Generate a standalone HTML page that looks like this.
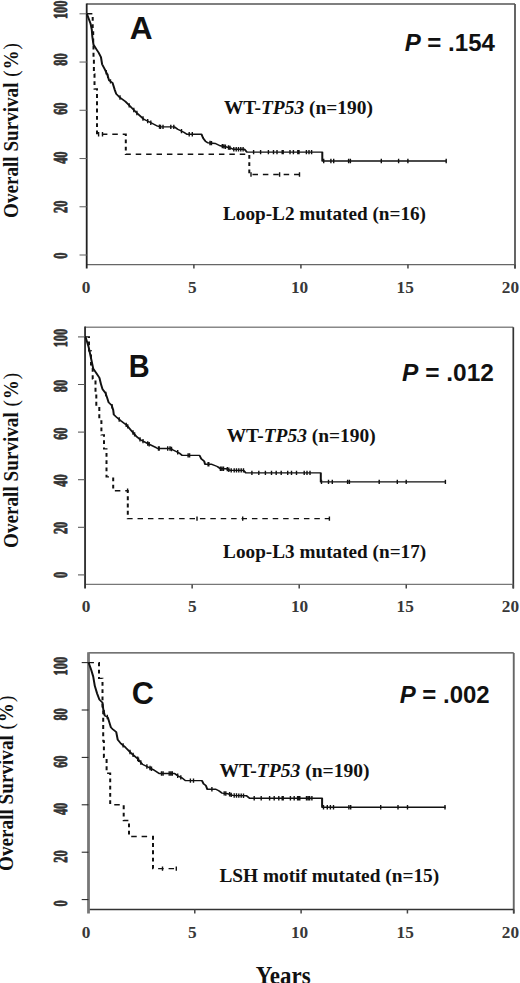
<!DOCTYPE html><html><head><meta charset="utf-8"><style>html,body{margin:0;padding:0;background:#fff;width:520px;height:983px;overflow:hidden}svg{display:block}</style></head><body>
<svg width="520" height="983" viewBox="0 0 520 983">
<rect width="520" height="983" fill="#fff"/>
<text transform="translate(67.4,255.6) rotate(-90) scale(0.63,1)" text-anchor="middle" class="yl">0</text>
<text transform="translate(67.4,206.8) rotate(-90) scale(0.63,1)" text-anchor="middle" class="yl">20</text>
<text transform="translate(67.4,157.7) rotate(-90) scale(0.63,1)" text-anchor="middle" class="yl">40</text>
<text transform="translate(67.4,108.7) rotate(-90) scale(0.63,1)" text-anchor="middle" class="yl">60</text>
<text transform="translate(67.4,59.5) rotate(-90) scale(0.63,1)" text-anchor="middle" class="yl">80</text>
<text transform="translate(67.4,9.85) rotate(-90) scale(0.63,1)" text-anchor="middle" class="yl">100</text>
<text transform="translate(86,293.3) scale(1,1)" text-anchor="middle" class="xl">0</text>
<text transform="translate(192.4,293.3) scale(1,1)" text-anchor="middle" class="xl">5</text>
<text transform="translate(299.6,293.3) scale(1,1)" text-anchor="middle" class="xl">10</text>
<text transform="translate(405.2,293.3) scale(1,1)" text-anchor="middle" class="xl">15</text>
<text transform="translate(510.4,293.3) scale(1,1)" text-anchor="middle" class="xl">20</text>
<text transform="translate(18.1,217.96) rotate(-90)" class="yt" style="font-size:21px" textLength="175.73" lengthAdjust="spacingAndGlyphs">Overall Survival <tspan font-weight="normal" dx="1" letter-spacing="1">(<tspan font-weight="bold">%</tspan>)</tspan></text>
<text x="129.82" y="38.53" class="let" style="font-size:31px" textLength="22.85" lengthAdjust="spacingAndGlyphs">A</text>
<text x="404.63" y="51.43" class="pv" style="font-size:24.3px" textLength="90.35" lengthAdjust="spacingAndGlyphs"><tspan font-style="italic">P</tspan> = .154</text>
<text x="223.95" y="113.63" class="lab" style="font-size:19.5px" textLength="148.94" lengthAdjust="spacingAndGlyphs">WT-<tspan font-style="italic">TP53</tspan> (n=190)</text>
<text x="223.04" y="220.03" class="lab" style="font-size:19px" textLength="202.98" lengthAdjust="spacingAndGlyphs">Loop-L2 mutated (n=16)</text>
<text transform="translate(67.4,574.9) rotate(-90) scale(0.63,1)" text-anchor="middle" class="yl">0</text>
<text transform="translate(67.4,527.9) rotate(-90) scale(0.63,1)" text-anchor="middle" class="yl">20</text>
<text transform="translate(67.4,480.6) rotate(-90) scale(0.63,1)" text-anchor="middle" class="yl">40</text>
<text transform="translate(67.4,433.7) rotate(-90) scale(0.63,1)" text-anchor="middle" class="yl">60</text>
<text transform="translate(67.4,386.1) rotate(-90) scale(0.63,1)" text-anchor="middle" class="yl">80</text>
<text transform="translate(67.4,338.1) rotate(-90) scale(0.63,1)" text-anchor="middle" class="yl">100</text>
<text transform="translate(86,612.1) scale(1,1)" text-anchor="middle" class="xl">0</text>
<text transform="translate(192.4,612.1) scale(1,1)" text-anchor="middle" class="xl">5</text>
<text transform="translate(299.6,612.1) scale(1,1)" text-anchor="middle" class="xl">10</text>
<text transform="translate(405.2,612.1) scale(1,1)" text-anchor="middle" class="xl">15</text>
<text transform="translate(510.4,612.1) scale(1,1)" text-anchor="middle" class="xl">20</text>
<text transform="translate(17.55,547.96) rotate(-90)" class="yt" style="font-size:21px" textLength="176.13" lengthAdjust="spacingAndGlyphs">Overall Survival <tspan font-weight="normal" dx="1" letter-spacing="1">(<tspan font-weight="bold">%</tspan>)</tspan></text>
<text x="128.72" y="376.73" class="let" style="font-size:30.5px" textLength="20.89" lengthAdjust="spacingAndGlyphs">B</text>
<text x="402.04" y="381.33" class="pv" style="font-size:24.3px" textLength="91.82" lengthAdjust="spacingAndGlyphs"><tspan font-style="italic">P</tspan> = .012</text>
<text x="226.73" y="442" class="lab" style="font-size:19.5px" textLength="148.88" lengthAdjust="spacingAndGlyphs">WT-<tspan font-style="italic">TP53</tspan> (n=190)</text>
<text x="223.14" y="558.03" class="lab" style="font-size:19px" textLength="203.07" lengthAdjust="spacingAndGlyphs">Loop-L3 mutated (n=17)</text>
<text transform="translate(67.4,903.5) rotate(-90) scale(0.63,1)" text-anchor="middle" class="yl">0</text>
<text transform="translate(67.4,856.5) rotate(-90) scale(0.63,1)" text-anchor="middle" class="yl">20</text>
<text transform="translate(67.4,808.9) rotate(-90) scale(0.63,1)" text-anchor="middle" class="yl">40</text>
<text transform="translate(67.4,761.7) rotate(-90) scale(0.63,1)" text-anchor="middle" class="yl">60</text>
<text transform="translate(67.4,714.4) rotate(-90) scale(0.63,1)" text-anchor="middle" class="yl">80</text>
<text transform="translate(67.4,666.2) rotate(-90) scale(0.63,1)" text-anchor="middle" class="yl">100</text>
<text transform="translate(86,937.7) scale(1,1)" text-anchor="middle" class="xl">0</text>
<text transform="translate(192.4,937.7) scale(1,1)" text-anchor="middle" class="xl">5</text>
<text transform="translate(299.6,937.7) scale(1,1)" text-anchor="middle" class="xl">10</text>
<text transform="translate(405.2,937.7) scale(1,1)" text-anchor="middle" class="xl">15</text>
<text transform="translate(510.4,937.7) scale(1,1)" text-anchor="middle" class="xl">20</text>
<text transform="translate(13.36,870.88) rotate(-90)" class="yt" style="font-size:21px" textLength="176.08" lengthAdjust="spacingAndGlyphs">Overall Survival <tspan font-weight="normal" dx="1" letter-spacing="1">(<tspan font-weight="bold">%</tspan>)</tspan></text>
<text x="131.8" y="703.83" class="let" style="font-size:31px" textLength="22.11" lengthAdjust="spacingAndGlyphs">C</text>
<text x="399.67" y="702.73" class="pv" style="font-size:24.3px" textLength="90.07" lengthAdjust="spacingAndGlyphs"><tspan font-style="italic">P</tspan> = .002</text>
<text x="219.4" y="776.88" class="lab" style="font-size:19.5px" textLength="150.2" lengthAdjust="spacingAndGlyphs">WT-<tspan font-style="italic">TP53</tspan> (n=190)</text>
<text x="219.43" y="882.23" class="lab" style="font-size:19px" textLength="219.74" lengthAdjust="spacingAndGlyphs">LSH motif mutated (n=15)</text>
<g transform="scale(1,0.7)">
<line x1="86.7" y1="5.71" x2="515" y2="5.71" stroke="#555" stroke-width="1.8"/>
<line x1="515" y1="5.71" x2="515" y2="383.71" stroke="#555" stroke-width="1.8"/>
<line x1="86.7" y1="378" x2="515" y2="378" stroke="#666" stroke-width="1.7"/>
<line x1="86.7" y1="4.86" x2="86.7" y2="383.71" stroke="#222" stroke-width="1.8"/>
<line x1="79.5" y1="364.29" x2="86.85" y2="364.29" stroke="#666" stroke-width="1.5"/>
<line x1="79.5" y1="295.37" x2="86.85" y2="295.37" stroke="#666" stroke-width="1.5"/>
<line x1="79.5" y1="226.46" x2="86.85" y2="226.46" stroke="#666" stroke-width="1.5"/>
<line x1="79.5" y1="157.54" x2="86.85" y2="157.54" stroke="#666" stroke-width="1.5"/>
<line x1="79.5" y1="88.63" x2="86.85" y2="88.63" stroke="#666" stroke-width="1.5"/>
<line x1="79.5" y1="19.71" x2="86.85" y2="19.71" stroke="#666" stroke-width="1.5"/>
<line x1="193.89" y1="378" x2="193.89" y2="383.71" stroke="#444" stroke-width="1.5"/>
<line x1="300.92" y1="378" x2="300.92" y2="383.71" stroke="#444" stroke-width="1.5"/>
<line x1="407.96" y1="378" x2="407.96" y2="383.71" stroke="#444" stroke-width="1.5"/>
<line x1="515" y1="378" x2="515" y2="383.71" stroke="#444" stroke-width="1.5"/>
<polyline points="86.85,19.71 87.2,20.86 90.6,34 91.8,42.29 92.3,52.14 93.5,63.71 96.4,70.29 98.7,75.29 101,81.86 102.1,91.71 104.5,98.29 107.3,106.57 109.1,114.86 112.5,118.14 114.8,128.57 116.2,134 119.2,138.43 125.4,145 131.5,153.86 137.7,162.57 143.8,170.29 150,174.71 157.7,180.29 160.8,181.29 174.6,181.29 177.7,184.57 183.8,189 186.9,191.71 201.5,191.71 203.1,197.29 205.4,201.71 207.7,203.86 215.4,205 220,208.29 224.6,209.29 230.8,211.57 233.1,213.29 244.6,213.29 246.9,217.29 322.3,217.29 322.3,230 446.2,230" fill="none" stroke="#111" stroke-width="2" stroke-linejoin="round"/>
<polyline points="86.85,19.71 92.7,19.71 92.7,41.43 93.2,41.43 93.2,62.86 93.5,62.86 93.5,84.29 93.9,84.29 93.9,105.71 94.5,105.71 94.5,127.14 97,127.14 97,191.86 125.8,191.86 125.8,220.43 249.3,220.43 249.3,249.29 301.2,249.29" fill="none" stroke="#111" stroke-width="2" stroke-dasharray="5.5 4.9"/>
<path d="M106.2 100.17v6.29M107.7 105.27v6.29M110.5 113.07v6.29M120 136.13v6.29M129.2 147.37v6.29M133.8 153.95v6.29M136.9 158.3v6.29M143 166.13v6.29M147.7 169.93v6.29M150.8 172.15v6.29M159.5 177.72v6.29M160.5 178.05v6.29M163 178.14v6.29M170.8 178.14v6.29M173.8 178.14v6.29M181.5 184.19v6.29M189.2 188.57v6.29M192.3 188.57v6.29M210 201.06v6.29M211.5 201.28v6.29M222.3 205.64v6.29M223.8 205.97v6.29M225.4 206.44v6.29M228.5 207.58v6.29M230 208.13v6.29M233.8 210.14v6.29M236.2 210.14v6.29M238.5 210.14v6.29M240.8 210.14v6.29M243.1 210.14v6.29M253.6 214.14v6.29M260.6 214.14v6.29M268.4 214.14v6.29M273.5 214.14v6.29M277 214.14v6.29M282.2 214.14v6.29M283.2 214.14v6.29M290 214.14v6.29M293.4 214.14v6.29M297.8 214.14v6.29M299 214.14v6.29M306.4 214.14v6.29M309 214.14v6.29M311.6 214.14v6.29M323.7 226.86v6.29M330.9 226.86v6.29M333.7 226.86v6.29M348.6 226.86v6.29M350.4 226.86v6.29M381.3 226.86v6.29M398.6 226.86v6.29M407.9 226.86v6.29M446.2 226.86v6.29M98.6 188.71v6.29M102.5 188.71v6.29M251 246.14v6.29M279.6 246.14v6.29M299.5 246.14v6.29" stroke="#111" stroke-width="1.4" fill="none"/>
<line x1="85.06" y1="467.43" x2="513.3" y2="467.43" stroke="#888" stroke-width="2"/>
<line x1="513.3" y1="467.43" x2="513.3" y2="840.57" stroke="#333" stroke-width="1.7"/>
<line x1="85.06" y1="834.86" x2="513.3" y2="834.86" stroke="#777" stroke-width="1.7"/>
<line x1="85.06" y1="466.57" x2="85.06" y2="840.57" stroke="#333" stroke-width="1.9"/>
<line x1="78" y1="821.29" x2="85.1" y2="821.29" stroke="#555" stroke-width="1.5"/>
<line x1="78" y1="753.29" x2="85.1" y2="753.29" stroke="#555" stroke-width="1.5"/>
<line x1="78" y1="685.29" x2="85.1" y2="685.29" stroke="#555" stroke-width="1.5"/>
<line x1="78" y1="617.29" x2="85.1" y2="617.29" stroke="#555" stroke-width="1.5"/>
<line x1="78" y1="549.29" x2="85.1" y2="549.29" stroke="#555" stroke-width="1.5"/>
<line x1="78" y1="481.29" x2="85.1" y2="481.29" stroke="#555" stroke-width="1.5"/>
<line x1="192.15" y1="834.86" x2="192.15" y2="840.57" stroke="#444" stroke-width="1.5"/>
<line x1="299.2" y1="834.86" x2="299.2" y2="840.57" stroke="#444" stroke-width="1.5"/>
<line x1="406.25" y1="834.86" x2="406.25" y2="840.57" stroke="#444" stroke-width="1.5"/>
<line x1="513.3" y1="834.86" x2="513.3" y2="840.57" stroke="#444" stroke-width="1.5"/>
<polyline points="85.1,481.29 85.5,481.29 88.6,495.57 90.9,511 93.2,526.43 96.3,533 99.4,539.57 100.9,548.29 102.5,556 105.5,561.57 107.1,568.14 108.6,574.71 111.7,579.14 113.2,585.71 113.8,592.29 116.2,595.57 120.8,601.14 126.9,607.71 131.5,615.43 136.2,623.14 140.8,628.57 146.9,633 151.5,636.29 156.2,639.57 157.7,640.71 170.8,640.71 173.1,642.86 176.2,645 179.2,647.29 182.3,650.57 199.6,650.57 201.2,655.43 204.2,658.86 205,663.14 211.2,663.14 217.3,666.43 220.4,669.71 226.5,669.71 230.4,672 243.5,672 245.8,675.57 320.8,675.57 320.8,688.43 445.4,688.43" fill="none" stroke="#111" stroke-width="2" stroke-linejoin="round"/>
<polyline points="85.1,481.29 89,481.29 89,501.29 91,501.29 91,521.29 92.7,521.29 92.7,541.29 95.5,541.29 95.5,561.29 96.3,561.29 96.3,581.29 99.3,581.29 99.3,601.29 101.4,601.29 101.4,621.29 104,621.29 104,641.29 106.5,641.29 106.5,681.29 113.2,681.29 113.2,701.14 127.8,701.14 127.8,740.86 329.4,740.86" fill="none" stroke="#111" stroke-width="2" stroke-dasharray="5.5 4.9"/>
<path d="M105.8 559.66v6.29M112 577.31v6.29M119.2 596.06v6.29M126.2 603.82v6.29M127.7 605.91v6.29M133 614.75v6.29M134.6 617.37v6.29M140 624.48v6.29M143 627.03v6.29M147.7 630.43v6.29M149.2 631.5v6.29M158.5 637.57v6.29M159.2 637.57v6.29M167.7 637.57v6.29M170 637.57v6.29M171.5 638.22v6.29M177.7 643v6.29M188.1 647.43v6.29M189.6 647.43v6.29M208.1 660v6.29M208.8 660v6.29M220.4 666.57v6.29M221.9 666.57v6.29M223.5 666.57v6.29M227.3 667.04v6.29M228.8 667.92v6.29M231.2 668.86v6.29M234.2 668.86v6.29M236.5 668.86v6.29M238.8 668.86v6.29M241.2 668.86v6.29M243.5 668.86v6.29M251.9 672.43v6.29M258.8 672.43v6.29M265.4 672.43v6.29M271.5 672.43v6.29M276.2 672.43v6.29M281.2 672.43v6.29M287.7 672.43v6.29M291.5 672.43v6.29M296.5 672.43v6.29M304.2 672.43v6.29M307 672.43v6.29M310 672.43v6.29M321.5 685.29v6.29M328.5 685.29v6.29M332.3 685.29v6.29M347.6 685.29v6.29M349.4 685.29v6.29M379.2 685.29v6.29M397.3 685.29v6.29M406.2 685.29v6.29M445.4 685.29v6.29M127.6 698v6.29M197 737.71v6.29M242.7 737.71v6.29M329.4 737.71v6.29" stroke="#111" stroke-width="1.4" fill="none"/>
<line x1="88.5" y1="932.71" x2="513.75" y2="932.71" stroke="#444" stroke-width="1.8"/>
<line x1="513.75" y1="932.71" x2="513.75" y2="1305" stroke="#666" stroke-width="1.9"/>
<line x1="88.5" y1="1299.29" x2="513.75" y2="1299.29" stroke="#333" stroke-width="1.8"/>
<line x1="88.5" y1="931.86" x2="88.5" y2="1305" stroke="#777" stroke-width="2.8"/>
<line x1="81.7" y1="1285.14" x2="88.45" y2="1285.14" stroke="#222" stroke-width="1.5"/>
<line x1="81.7" y1="1217.43" x2="88.45" y2="1217.43" stroke="#222" stroke-width="1.5"/>
<line x1="81.7" y1="1149.71" x2="88.45" y2="1149.71" stroke="#222" stroke-width="1.5"/>
<line x1="81.7" y1="1082" x2="88.45" y2="1082" stroke="#222" stroke-width="1.5"/>
<line x1="81.7" y1="1014.29" x2="88.45" y2="1014.29" stroke="#222" stroke-width="1.5"/>
<line x1="81.7" y1="946.57" x2="88.45" y2="946.57" stroke="#222" stroke-width="1.5"/>
<line x1="194.78" y1="1299.29" x2="194.78" y2="1305" stroke="#444" stroke-width="1.5"/>
<line x1="301.1" y1="1299.29" x2="301.1" y2="1305" stroke="#444" stroke-width="1.5"/>
<line x1="407.43" y1="1299.29" x2="407.43" y2="1305" stroke="#444" stroke-width="1.5"/>
<line x1="513.75" y1="1299.29" x2="513.75" y2="1305" stroke="#444" stroke-width="1.5"/>
<polyline points="88.45,946.57 88.7,946.86 90.9,955.43 93.2,966.43 94.8,979.71 97.1,990.71 99.4,999.43 102.5,1003.86 103.2,1012.57 104.8,1022.57 107.8,1024.71 110.9,1039 113.1,1042.29 116.2,1045.57 117.7,1056.57 120.8,1062.14 125.4,1067.57 131.5,1076.43 137.7,1084 142.3,1091.71 146.9,1095 153.1,1099.43 159.2,1105 174.6,1105 177.7,1108.29 182.3,1111.57 185.4,1115.14 201.9,1115.14 203.5,1119.71 205.8,1122 207.3,1127.43 215.8,1127.43 218.8,1129.71 221.9,1133 228.1,1134 232.7,1136.29 246.5,1136.86 249.6,1140.29 322.1,1140.29 322.1,1153.29 445.6,1153.29" fill="none" stroke="#111" stroke-width="2" stroke-linejoin="round"/>
<polyline points="88.45,946.57 99,946.57 99,969.14 102.5,969.14 102.5,1014.29 103.2,1014.29 103.2,1058.57 103.9,1058.57 103.9,1082 106.6,1082 106.6,1104.71 110.2,1104.71 110.2,1149.57 123.7,1149.57 123.7,1172.14 129,1172.14 129,1195 153,1195 153,1240.86 178.6,1240.86" fill="none" stroke="#111" stroke-width="2" stroke-dasharray="5.5 4.9"/>
<path d="M104 1014.43v6.29M107.3 1021.21v6.29M123.1 1061.71v6.29M130 1071.11v6.29M133.1 1075.24v6.29M137.7 1080.86v6.29M138.5 1082.2v6.29M140.8 1086.06v6.29M146.9 1091.86v6.29M150 1094.07v6.29M151.5 1095.14v6.29M161.5 1101.86v6.29M163.1 1101.86v6.29M169.2 1101.86v6.29M170.8 1101.86v6.29M172.3 1101.86v6.29M177.7 1105.14v6.29M180.8 1107.36v6.29M190.4 1112v6.29M193.5 1112v6.29M211.9 1124.29v6.29M224.2 1130.23v6.29M225.8 1130.49v6.29M229.6 1131.6v6.29M231.2 1132.4v6.29M234.2 1133.2v6.29M236.5 1133.3v6.29M238.8 1133.4v6.29M241.2 1133.49v6.29M243.5 1133.59v6.29M254.2 1137.14v6.29M261.2 1137.14v6.29M269.6 1137.14v6.29M274.2 1137.14v6.29M278.8 1137.14v6.29M282.2 1137.14v6.29M283.2 1137.14v6.29M290.4 1137.14v6.29M294.2 1137.14v6.29M297.6 1137.14v6.29M298.6 1137.14v6.29M299.8 1137.14v6.29M306.5 1137.14v6.29M308.1 1137.14v6.29M309.6 1137.14v6.29M311.9 1137.14v6.29M323.5 1150.14v6.29M327.3 1150.14v6.29M330.4 1150.14v6.29M333.5 1150.14v6.29M348.9 1150.14v6.29M350.7 1150.14v6.29M380.7 1150.14v6.29M398 1150.14v6.29M407.5 1150.14v6.29M445 1150.14v6.29M162.5 1237.71v6.29M176.3 1237.71v6.29" stroke="#111" stroke-width="1.4" fill="none"/>
</g>
<text x="255.77" y="983.6" class="yr" style="font-size:24.5px" textLength="54.85" lengthAdjust="spacingAndGlyphs">Years</text>
<style>
text{font-family:"Liberation Serif",serif;fill:#111}
.yl{font-weight:bold;font-size:19.6px;fill:#333;stroke:#333;stroke-width:0.9;stroke-linejoin:round}
.xl{font-weight:bold;font-size:17.3px;fill:#383838}
.yt{font-weight:bold}
.let{font-family:"Liberation Sans",sans-serif;font-weight:bold}
.pv{font-family:"Liberation Sans",sans-serif;font-weight:bold}
.lab{font-weight:bold}
.yr{font-weight:bold}
</style>
</svg></body></html>
